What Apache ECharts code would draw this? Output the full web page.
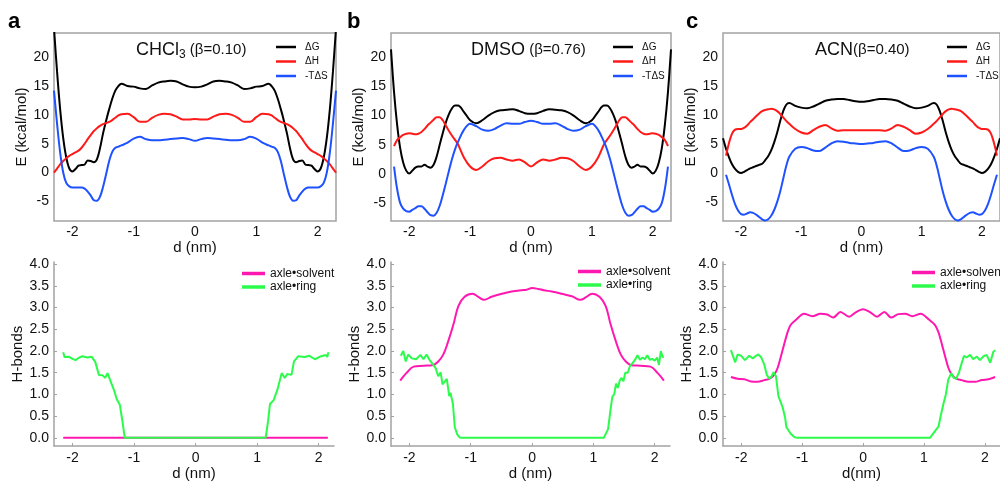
<!DOCTYPE html>
<html>
<head>
<meta charset="utf-8">
<script src="https://cdn.jsdelivr.net/npm/echarts@6/dist/echarts.min.js"></script>
<style>
  html, body { margin: 0; padding: 0; background: #fff; }
  #chart { width: 1000px; height: 482px; }
</style>
</head>
<body>
<div id="chart"></div>
<script>
// Ring position d (nm) at which the free-energy decomposition is sampled
const dTop = [-2.3,-2.25,-2.2,-2.15,-2.1,-2.05,-2.0,-1.95,-1.9,-1.85,-1.8,-1.75,-1.7,-1.65,-1.6,-1.55,-1.5,-1.45,-1.4,-1.35,-1.3,-1.25,-1.2,
  -1.1,-1.0,-0.9,-0.8,-0.7,-0.6,-0.5,-0.4,-0.3,-0.2,-0.1,
  0,
  0.1,0.2,0.3,0.4,0.5,0.6,0.7,0.8,0.9,1.0,1.1,
  1.2,1.25,1.3,1.35,1.4,1.45,1.5,1.55,1.6,1.65,1.7,1.75,1.8,1.85,1.9,1.95,2.0,2.05,2.1,2.15,2.2,2.25,2.3];

// CHCl3: ΔG, ΔH, -TΔS (kcal/mol)
const gA = [25,17.5,11,6,2.6,0.7,0.2,0.6,1.2,1.3,1.4,2.1,2.0,1.8,2.3,4.2,6.8,9.0,11.0,12.8,14.2,15.0,15.4,
  15.0,14.9,14.6,14.5,15.1,15.6,15.8,15.9,15.8,15.3,14.9,
  14.8,
  14.9,15.3,15.8,15.9,15.8,15.6,15.1,14.5,14.6,14.9,15.0,
  15.4,15.0,14.2,12.8,11.0,9.0,6.8,4.2,2.3,1.8,2.0,2.1,1.4,1.3,1.2,0.6,0.2,0.7,2.6,6,11,17.5,25];
const hA = [0,0.7,1.4,2.0,2.5,2.9,3.2,3.5,3.8,4.3,5.0,5.8,6.5,7.2,7.7,8.1,8.4,8.6,8.8,9.1,9.5,9.9,10.1,
  10.2,9.6,8.8,8.8,9.5,10.0,10.2,10.1,9.7,9.2,9.2,
  9.3,
  9.2,9.2,9.7,10.1,10.2,10.0,9.5,8.8,8.8,9.6,10.2,
  10.1,9.9,9.5,9.1,8.8,8.6,8.4,8.1,7.7,7.2,6.5,5.8,5.0,4.3,3.8,3.5,3.2,2.9,2.5,2.0,1.4,0.7,0];
const sA = [14.2,8.5,3.5,0,-1.8,-2.4,-2.6,-2.6,-2.6,-2.6,-2.8,-3.3,-4.0,-4.8,-4.9,-4.2,-2.5,-0.3,2.0,3.6,4.3,4.5,4.7,
  5.2,5.9,6.2,5.8,5.6,5.6,5.7,5.8,5.9,6.0,5.8,
  5.5,
  5.8,6.0,5.9,5.8,5.7,5.6,5.6,5.8,6.2,5.9,5.2,
  4.7,4.5,4.3,3.6,2.0,-0.3,-2.5,-4.2,-4.9,-4.8,-4.0,-3.3,-2.8,-2.6,-2.6,-2.6,-2.6,-2.4,-1.8,0,3.5,8.5,14.2];

// DMSO
const gB = [21.3,14,8.5,4.5,2.0,0.6,0.1,0.6,1.1,1.3,1.3,1.6,1.3,1.1,1.6,3.0,5.0,7.0,8.8,10.2,11.2,11.7,11.7,
  10.6,9.2,8.7,9.2,10.0,10.6,10.9,11.0,11.1,10.8,10.4,
  10.3,
  10.4,10.8,11.1,11.0,10.9,10.6,10.0,9.2,8.7,9.2,10.6,
  11.7,11.7,11.2,10.2,8.8,7.0,5.0,3.0,1.6,1.1,1.3,1.6,1.3,1.3,1.1,0.6,0.1,0.6,2.0,4.5,8.5,14,21.3];
const hB = [null,4.8,5.8,6.3,6.7,6.9,7.0,6.9,6.8,6.9,7.2,7.7,8.3,8.8,9.3,9.7,9.7,9.2,8.3,7.4,6.6,5.9,5.1,
  2.8,1.3,0.7,1.3,2.2,2.7,2.8,2.5,2.3,2.5,2.0,
  1.3,
  2.0,2.5,2.3,2.5,2.8,2.7,2.2,1.3,0.7,1.3,2.8,
  5.1,5.9,6.6,7.4,8.3,9.2,9.7,9.7,9.3,8.8,8.3,7.7,7.2,6.9,6.8,6.9,7.0,6.9,6.7,6.3,5.8,4.8,null];
const sB = [null,1.3,-2.5,-4.9,-5.9,-6.3,-6.4,-6.1,-5.8,-5.5,-5.5,-5.9,-6.5,-7.0,-7.1,-6.6,-5.4,-3.6,-1.6,0.5,2.5,4.2,5.5,
  7.6,8.6,8.2,7.6,7.4,7.7,8.3,8.7,8.6,8.6,8.9,
  9.1,
  8.9,8.6,8.6,8.7,8.3,7.7,7.4,7.6,8.2,8.6,7.6,
  5.5,4.2,2.5,0.5,-1.6,-3.6,-5.4,-6.6,-7.1,-7.0,-6.5,-5.9,-5.5,-5.5,-5.8,-6.1,-6.4,-6.3,-5.9,-4.9,-2.5,1.3,null];

// ACN
const gC = [6.0,4.2,2.7,1.5,0.7,0.2,0.0,0.2,0.5,0.8,1.0,1.2,1.4,1.6,2.2,2.9,3.9,5.3,7.0,9.0,10.7,11.8,12.1,
  11.6,11.3,11.2,11.5,12.0,12.5,12.7,12.8,12.8,12.6,12.4,
  12.3,
  12.4,12.6,12.8,12.8,12.7,12.5,12.0,11.5,11.2,11.3,11.6,
  12.1,11.8,10.7,9.0,7.0,5.3,3.9,2.9,2.2,1.6,1.4,1.2,1.0,0.8,0.5,0.2,0.0,0.2,0.7,1.5,2.7,4.2,6.0];
const hC = [null,3.0,5.2,6.8,7.5,7.6,7.6,7.8,8.2,8.8,9.3,9.8,10.3,10.7,10.9,11.0,11.1,11.0,10.7,10.2,9.6,9.0,8.5,
  7.6,7.0,6.8,7.4,8.0,8.3,7.7,7.3,7.4,7.4,7.4,
  7.4,
  7.4,7.4,7.4,7.3,7.7,8.3,8.0,7.4,6.8,7.0,7.6,
  8.5,9.0,9.6,10.2,10.7,11.0,11.1,11.0,10.9,10.7,10.3,9.8,9.3,8.8,8.2,7.8,7.6,7.6,7.5,6.8,5.2,3.0,null];
const sC = [null,-0.3,-2.0,-3.8,-5.4,-6.5,-7.1,-7.2,-7.0,-6.8,-6.9,-7.2,-7.6,-8.0,-8.2,-8.0,-7.4,-6.4,-5.0,-3.2,-1.0,1.2,2.8,
  4.2,4.5,4.3,3.9,3.8,4.4,5.1,5.5,5.4,5.2,5.1,
  5.0,
  5.1,5.2,5.4,5.5,5.1,4.4,3.8,3.9,4.3,4.5,4.2,
  2.8,1.2,-1.0,-3.2,-5.0,-6.4,-7.4,-8.0,-8.2,-8.0,-7.6,-7.2,-6.9,-6.8,-7.0,-7.2,-7.1,-6.5,-5.4,-3.8,-2.0,-0.3,null];

// H-bond counts, [d (nm), number of H-bonds]
const solvA = [[-2.15,0],[2.15,0]];
const ringA = [[-2.15,1.97],[-2.13,1.86],[-2.11,1.89],[-2.06,1.87],[-2.0,1.82],[-1.95,1.79],[-1.9,1.84],[-1.84,1.88],[-1.76,1.85],[-1.69,1.87],[-1.63,1.75],[-1.57,1.45],[-1.51,1.44],[-1.47,1.38],[-1.43,1.49],[-1.38,1.30],[-1.32,1.08],[-1.28,0.89],[-1.23,0.76],[-1.19,0.40],[-1.15,0.0],
  [1.14,0.0],[1.18,0.4],[1.21,0.78],[1.27,0.87],[1.33,1.11],[1.40,1.49],[1.45,1.38],[1.49,1.47],[1.56,1.45],[1.60,1.76],[1.67,1.88],[1.77,1.86],[1.85,1.89],[1.94,1.81],[2.04,1.88],[2.12,1.91],[2.14,1.86],[2.16,1.97]];

const solvB = [[-2.15,1.32],[-2.05,1.49],[-1.93,1.64],[-1.77,1.66],[-1.61,1.68],[-1.53,1.76],[-1.45,1.91],[-1.37,2.21],[-1.28,2.62],[-1.20,3.04],[-1.10,3.25],[-0.97,3.32],[-0.87,3.24],[-0.78,3.18],[-0.66,3.25],[-0.49,3.32],[-0.33,3.37],[-0.17,3.40],[-0.09,3.41],[0.0,3.45],[0.1,3.43],[0.19,3.40],[0.32,3.37],[0.48,3.32],[0.65,3.26],[0.79,3.18],[0.88,3.24],[0.98,3.32],[1.10,3.25],[1.20,3.04],[1.28,2.62],[1.37,2.21],[1.45,1.91],[1.53,1.76],[1.61,1.68],[1.77,1.66],[1.93,1.64],[2.05,1.49],[2.15,1.32]];
const ringB = [[-2.14,1.89],[-2.10,2.0],[-2.06,1.76],[-2.02,1.92],[-1.96,1.83],[-1.89,1.81],[-1.82,1.91],[-1.77,1.81],[-1.72,1.92],[-1.67,1.79],[-1.61,1.68],[-1.57,1.60],[-1.53,1.42],[-1.49,1.51],[-1.46,1.23],[-1.42,1.30],[-1.39,1.36],[-1.35,0.96],[-1.33,1.04],[-1.29,0.78],[-1.26,0.25],[-1.22,0.08],[-1.18,0.01],[-1.14,0.0],
  [1.17,0.0],[1.20,0.03],[1.24,0.2],[1.28,0.65],[1.31,0.95],[1.34,1.0],[1.37,1.25],[1.40,1.15],[1.43,1.32],[1.46,1.38],[1.49,1.30],[1.52,1.50],[1.56,1.50],[1.60,1.66],[1.64,1.72],[1.68,1.80],[1.72,1.90],[1.76,1.80],[1.80,1.85],[1.84,1.81],[1.88,1.90],[1.92,1.80],[1.96,1.82],[2.00,1.78],[2.04,1.85],[2.07,1.68],[2.10,2.0],[2.13,1.86],[2.15,1.87]];

const solvC = [[-2.17,1.40],[-2.06,1.36],[-1.95,1.35],[-1.84,1.30],[-1.73,1.29],[-1.62,1.33],[-1.54,1.36],[-1.46,1.45],[-1.40,1.62],[-1.35,1.87],[-1.30,2.13],[-1.24,2.43],[-1.19,2.60],[-1.10,2.72],[-0.97,2.86],[-0.83,2.80],[-0.70,2.86],[-0.59,2.84],[-0.49,2.77],[-0.37,2.90],[-0.23,2.79],[-0.12,2.89],[0,2.96],[0.12,2.89],[0.23,2.79],[0.35,2.90],[0.46,2.77],[0.58,2.85],[0.69,2.86],[0.81,2.80],[0.95,2.86],[1.07,2.74],[1.18,2.60],[1.24,2.43],[1.30,2.13],[1.35,1.87],[1.40,1.62],[1.46,1.45],[1.54,1.36],[1.62,1.33],[1.73,1.29],[1.84,1.29],[1.95,1.33],[2.06,1.35],[2.17,1.40]];
const ringC = [[-2.17,2.02],[-2.10,1.74],[-2.06,1.92],[-2.00,1.89],[-1.94,1.79],[-1.87,1.89],[-1.81,1.83],[-1.76,1.89],[-1.72,1.92],[-1.67,1.85],[-1.62,1.68],[-1.58,1.45],[-1.54,1.36],[-1.50,1.42],[-1.47,1.51],[-1.43,1.42],[-1.39,0.96],[-1.36,0.93],[-1.32,0.70],[-1.28,0.47],[-1.26,0.25],[-1.23,0.26],[-1.19,0.10],[-1.13,0.02],[-1.08,0.0],
  [1.10,0.0],[1.13,0.02],[1.20,0.19],[1.24,0.26],[1.27,0.47],[1.32,0.78],[1.36,1.0],[1.40,1.34],[1.45,1.49],[1.49,1.38],[1.53,1.36],[1.58,1.52],[1.62,1.72],[1.66,1.89],[1.70,1.85],[1.76,1.91],[1.81,1.81],[1.87,1.87],[1.92,1.79],[1.98,1.88],[2.03,1.91],[2.09,1.73],[2.14,1.98],[2.17,2.02]];

// Tick labels
const dTicks = [-2, -1, 0, 1, 2];
const eTicks = [-5, 0, 5, 10, 15, 20];
const hTicks = [0, 0.5, 1.0, 1.5, 2.0, 2.5, 3.0, 3.5, 4.0];

const FONT = '"Liberation Sans", Arial, sans-serif';
const AXIS_GREY = '#a2a2a2';
const C_G = '#000000', C_H = '#ff1a1a', C_S = '#1f52ff';
const C_SOLV = '#ff18b0', C_RING = '#2cfb4c';

const chart = echarts.init(document.getElementById('chart'));

const topGrids = [
  { left: 54, top: 33, width: 282, height: 188 },
  { left: 391, top: 33, width: 280, height: 188 },
  { left: 723, top: 33, width: 281, height: 188 }
];
const botGrids = [
  { left: 54, top: 262, width: 280, height: 187.5 },
  { left: 391, top: 262, width: 279, height: 187.5 },
  { left: 723, top: 262, width: 279, height: 187.5 }
];
const grid = [];
topGrids.forEach(g => grid.push(Object.assign({ show: true, borderColor: AXIS_GREY, borderWidth: 1.5, backgroundColor: 'transparent' }, g)));
botGrids.forEach(g => grid.push(Object.assign({ show: false }, g)));

const labelStyle = { fontFamily: FONT, fontSize: 14, color: '#111' };
const nameStyle = { fontFamily: FONT, fontSize: 15, color: '#111' };

const xAxis = [];
const yAxis = [];
const eRanges = [[-8.4, 24.2], [-8.0, 24.1], [-8.3, 24.2]];
for (let i = 0; i < 3; i++) {
  xAxis.push({
    type: 'value', gridIndex: i, min: -2.3, max: 2.3,
    axisLine: { show: false, onZero: false }, axisTick: { show: false }, splitLine: { show: false },
    axisLabel: Object.assign({ customValues: dTicks, margin: 4 }, labelStyle),
    name: 'd (nm)', nameLocation: 'middle', nameGap: 15, nameTextStyle: nameStyle
  });
  yAxis.push({
    type: 'value', gridIndex: i, min: eRanges[i][0], max: eRanges[i][1],
    axisLine: { show: false, onZero: false }, axisTick: { show: false }, splitLine: { show: false },
    axisLabel: Object.assign({ customValues: eTicks, margin: 5 }, labelStyle),
    name: 'E (kcal/mol)', nameLocation: 'middle', nameGap: 25, nameTextStyle: nameStyle
  });
}
const botXMax = [2.25, 2.25, 2.25];
for (let i = 0; i < 3; i++) {
  xAxis.push({
    type: 'value', gridIndex: 3 + i, min: -2.3, max: botXMax[i],
    axisLine: { show: true, onZero: false, lineStyle: { color: AXIS_GREY, width: 1.5 } },
    axisTick: { show: true, inside: true, length: 3, customValues: dTicks, lineStyle: { color: AXIS_GREY } },
    splitLine: { show: false },
    axisLabel: Object.assign({ customValues: dTicks, margin: 5 }, labelStyle),
    name: i === 2 ? 'd(nm)' : 'd (nm)', nameLocation: 'middle', nameGap: 17, nameTextStyle: nameStyle
  });
  yAxis.push({
    type: 'value', gridIndex: 3 + i, min: -0.19, max: 4.05,
    axisLine: { show: true, onZero: false, lineStyle: { color: AXIS_GREY, width: 1.5 } },
    axisTick: { show: true, inside: true, length: 3, customValues: hTicks, lineStyle: { color: AXIS_GREY } },
    splitLine: { show: false },
    axisLabel: Object.assign({ customValues: hTicks, margin: 5, formatter: v => v.toFixed(1) }, labelStyle),
    name: 'H-bonds', nameLocation: 'middle', nameGap: 25, nameTextStyle: nameStyle
  });
}

const pairs = (xs, ys) => xs.map((x, k) => [x, ys[k]]);
function energyLine(name, color, ys, idx) {
  return {
    type: 'line', name, xAxisIndex: idx, yAxisIndex: idx,
    data: pairs(dTop, ys), smooth: 0.35, showSymbol: false, symbol: 'none',
    color, itemStyle: { color }, lineStyle: { color, width: 2 }, clip: true
  };
}
function bondLine(name, color, data, idx, smooth) {
  return {
    type: 'line', name, xAxisIndex: idx, yAxisIndex: idx,
    data, smooth, showSymbol: false, symbol: 'none',
    color, itemStyle: { color }, lineStyle: { color, width: 2 }, clip: true
  };
}

const series = [
  energyLine('ΔG', C_G, gA, 0), energyLine('ΔH', C_H, hA, 0), energyLine('-TΔS', C_S, sA, 0),
  energyLine('ΔG', C_G, gB, 1), energyLine('ΔH', C_H, hB, 1), energyLine('-TΔS', C_S, sB, 1),
  energyLine('ΔG', C_G, gC, 2), energyLine('ΔH', C_H, hC, 2), energyLine('-TΔS', C_S, sC, 2),
  bondLine('axle•solvent', C_SOLV, solvA, 3, false), bondLine('axle•ring', C_RING, ringA, 3, false),
  bondLine('axle•solvent', C_SOLV, solvB, 4, 0.4), bondLine('axle•ring', C_RING, ringB, 4, false),
  bondLine('axle•solvent', C_SOLV, solvC, 5, 0.3), bondLine('axle•ring', C_RING, ringC, 5, false)
];

function topLegend(left) {
  return {
    left, top: 41, padding: 0, orient: 'vertical', icon: 'rect', itemWidth: 20, itemHeight: 2.5, itemGap: 2.5,
    selectedMode: false, data: ['ΔG', 'ΔH', '-TΔS'],
    textStyle: { fontFamily: FONT, fontSize: 10, lineHeight: 12, color: '#111', padding: [0, 0, 0, 4] }
  };
}
function botLegend(left, top) {
  return {
    left, top, padding: 0, orient: 'vertical', icon: 'rect', itemWidth: 23, itemHeight: 3.5, itemGap: 0.5,
    selectedMode: false, data: ['axle•solvent', 'axle•ring'],
    textStyle: { fontFamily: FONT, fontSize: 12, lineHeight: 13, color: '#111' }
  };
}

function solventTitle(left, text) {
  return {
    left, top: 39, padding: 0, text,
    textStyle: {
      fontFamily: FONT, fontWeight: 'normal',
      rich: {
        m: { fontFamily: FONT, fontSize: 18, lineHeight: 22, color: '#111' },
        s: { fontFamily: FONT, fontSize: 12, lineHeight: 12, verticalAlign: 'bottom', color: '#111' },
        p: { fontFamily: FONT, fontSize: 15, lineHeight: 20, color: '#111' }
      }
    }
  };
}
function letter(left, text) {
  return { left, top: 11, padding: 0, text, textStyle: { fontFamily: FONT, fontSize: 22, fontWeight: 'bold', color: '#000' } };
}

chart.setOption({
  animation: false,
  backgroundColor: '#fff',
  textStyle: { fontFamily: FONT },
  title: [
    letter(8, 'a'), letter(347, 'b'), letter(686, 'c'),
    solventTitle(136, '{m|CHCl}{s|3}{p| (β=0.10)}'),
    solventTitle(471, '{m|DMSO}{p| (β=0.76)}'),
    solventTitle(815, '{m|ACN}{p|(β=0.40)}')
  ],
  legend: [topLegend(276), topLegend(613), topLegend(947), botLegend(242, 267), botLegend(578, 265), botLegend(912, 266)],
  grid, xAxis, yAxis, series
});
</script>
</body>
</html>
